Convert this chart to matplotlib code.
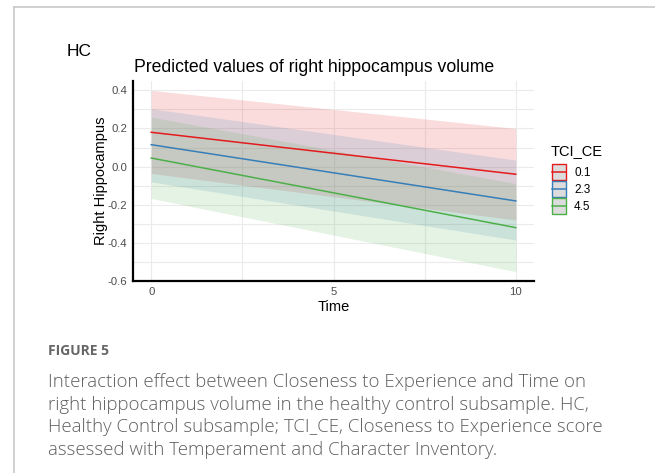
import matplotlib
matplotlib.use("Agg")
import matplotlib.pyplot as plt
import numpy as np
from matplotlib.patches import Rectangle
from matplotlib.lines import Line2D

# Data
time = [0, 10]
groups = ["0.1", "2.3", "4.5"]
colors = ["#E41A1C", "#377EB8", "#4DAF4A"]
pred = {"0.1": [0.18, -0.04], "2.3": [0.115, -0.18], "4.5": [0.045, -0.32]}
upper = {"0.1": [0.40, 0.20], "2.3": [0.304, 0.034], "4.5": [0.26, -0.089]}
lower = {"0.1": [-0.036, -0.28], "2.3": [-0.08, -0.385], "4.5": [-0.167, -0.551]}
yticks = [0.4, 0.2, 0.0, -0.2, -0.4, -0.6]
yticklabels = ["0.4", "0.2", "0.0", "-0.2", "-0.4", "-0.6"]
xticks = [0, 5, 10]

plt.rcParams['font.family'] = ['Liberation Sans', 'DejaVu Sans']

W, H = 655, 473
fig = plt.figure(figsize=(W / 100, H / 100), dpi=100)
fig.patch.set_facecolor("white")

# Frame lines
fig.add_artist(Line2D([14 / W, 1.0], [1 - 7.5 / H, 1 - 7.5 / H], color="#c8c8c8", lw=1.2))
fig.add_artist(Line2D([14 / W, 14 / W], [0, 1 - 7.5 / H], color="#c8c8c8", lw=1.2))

ax = fig.add_axes([133 / W, 1 - 281 / H, (534 - 133) / W, (281 - 81) / H])
ax.set_xlim(-0.5, 10.5)
ax.set_ylim(-0.6, 0.449)

# grid
for v in np.arange(-0.6, 0.45, 0.1):
    ax.axhline(v, color="#ebebeb", lw=0.8, zorder=0)
for v in [0, 2.5, 5, 7.5, 10]:
    ax.axvline(v, color="#ebebeb", lw=0.8, zorder=0)

KEY_W, KEY_H = 16 * 0.72, 17 * 0.72  # legend key size in points


class KeyHandler:
    def legend_artist(self, legend, orig_handle, fontsize, handlebox):
        c = orig_handle.get_color()
        x0 = -handlebox.xdescent
        y0 = -handlebox.ydescent
        w, h = handlebox.width, handlebox.height
        tr = handlebox.get_transform()
        rect = Rectangle((x0 + 0.4, y0 + 0.4), w - 0.8, h - 0.8,
                         facecolor="#dcdcdc", edgecolor=c, lw=1.0, transform=tr)
        ln = Line2D([x0 + 0.4, x0 + w - 0.4], [y0 + h / 2] * 2, color=c, lw=1.1, transform=tr)
        handlebox.add_artist(rect)
        handlebox.add_artist(ln)
        return rect


handles = []
for g, c in zip(groups, colors):
    ax.fill_between(time, lower[g], upper[g], color=c, alpha=0.15, lw=0, zorder=1)
for g, c in zip(groups, colors):
    ln, = ax.plot(time, pred[g], color=c, lw=1.1, zorder=3)
    handles.append(ln)

for s in ["top", "right"]:
    ax.spines[s].set_visible(False)
for s in ["left", "bottom"]:
    ax.spines[s].set_linewidth(1.6)
    ax.spines[s].set_color("black")

ax.set_yticks(yticks)
ax.set_yticklabels(yticklabels)
ax.set_xticks(xticks)
ax.tick_params(length=0, labelsize=8.2, labelcolor="#4d4d4d", pad=4)
ax.set_xlabel("Time", fontsize=10.5, labelpad=2.5)
ax.set_ylabel("Right Hippocampus", fontsize=10.5, labelpad=0)

fs_leg = 8.5
hh = (KEY_H - 0.245 * fs_leg) / (0.65 * fs_leg)
leg = fig.legend(handles, groups, handler_map={Line2D: KeyHandler()},
                 title="TCI_CE", loc="upper left",
                 bbox_to_anchor=(551 / W, 1 - 144 / H), bbox_transform=fig.transFigure,
                 frameon=False, fontsize=fs_leg, title_fontsize=10.5,
                 handlelength=KEY_W / fs_leg, handleheight=hh, handletextpad=0.6,
                 labelspacing=0.0, borderaxespad=0, borderpad=0)
leg._legend_box.align = "left"
leg._legend_box.sep = 4

fig.text(134 / W, 1 - 67 / H, "Predicted values of right hippocampus volume",
         fontsize=12.7, va="center", ha="left")
fig.text(67 / W, 1 - 52 / H, "HC", fontsize=12.5, va="center", ha="left")

fig.text(48 / W, 1 - 351 / H, "FIGURE 5", fontsize=10, color="#666666",
         fontweight="bold", family=["Open Sans", "DejaVu Sans"], va="center", ha="left")
caption = ["Interaction effect between Closeness to Experience and Time on",
           "right hippocampus volume in the healthy control subsample. HC,",
           "Healthy Control subsample; TCI_CE, Closeness to Experience score",
           "assessed with Temperament and Character Inventory."]
for i, line in enumerate(caption):
    fig.text(48 / W, 1 - (382 + 22.7 * i) / H, line, fontsize=13.4, color="#5f5f5f",
             fontweight="light", family=["Open Sans", "DejaVu Sans"], va="center", ha="left")

fig.savefig("out.png", dpi=100)
